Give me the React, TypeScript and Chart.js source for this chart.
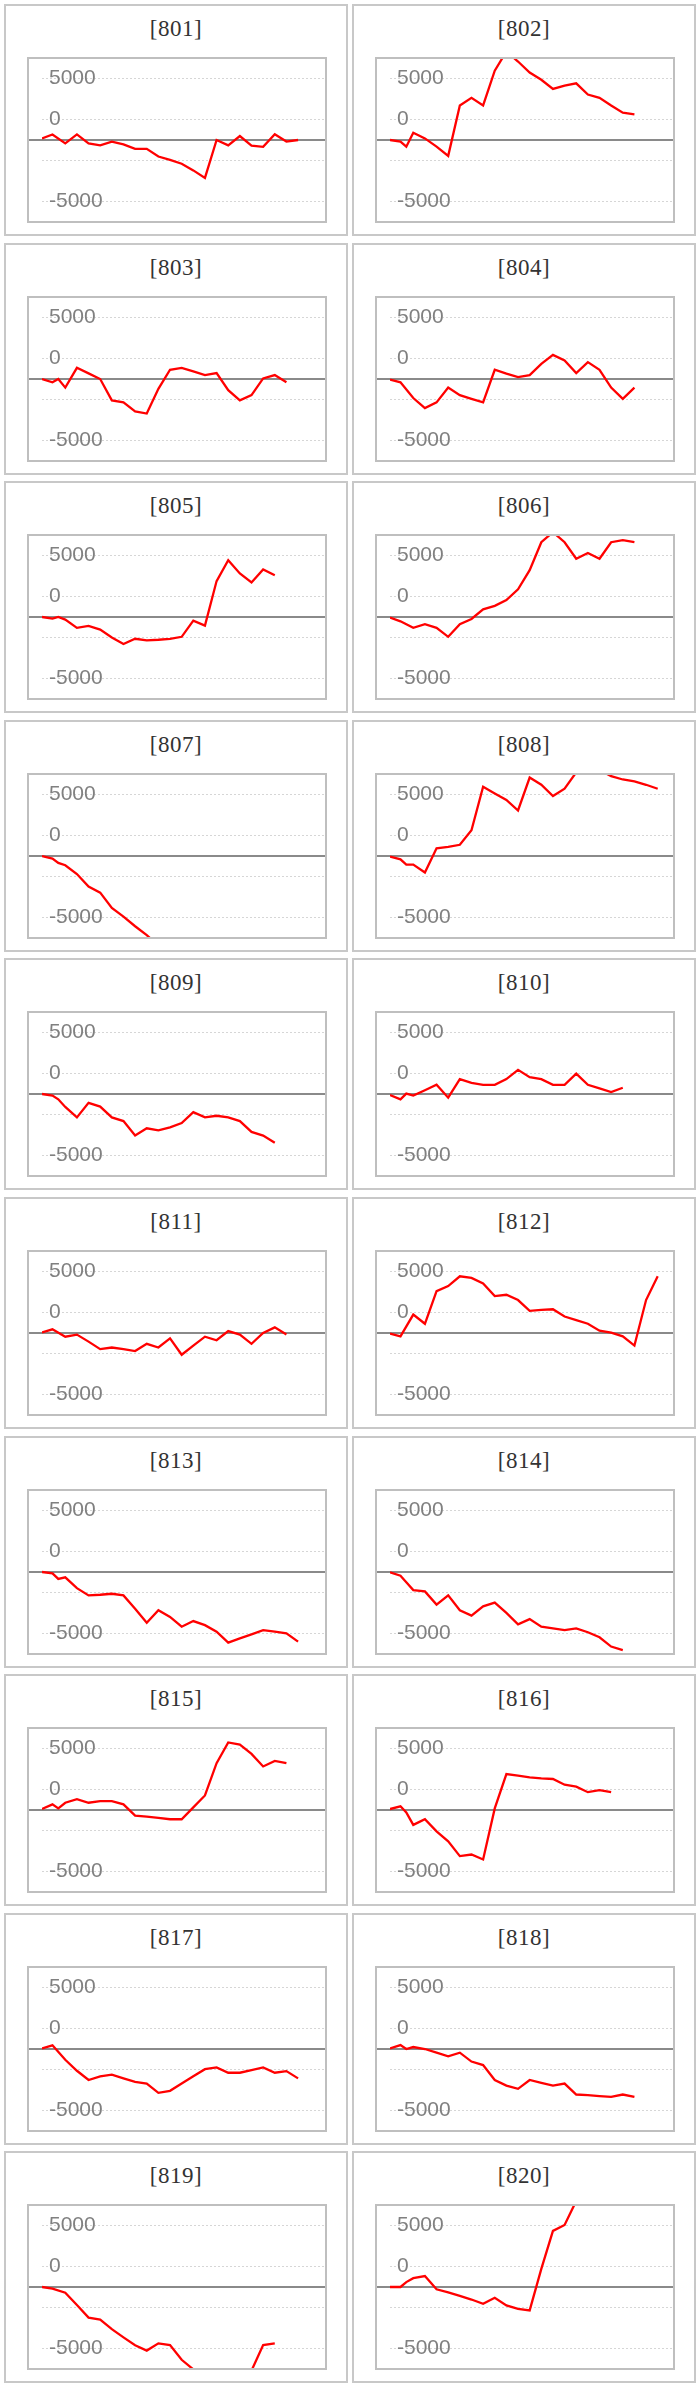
import { useEffect, useRef } from 'react';
import Chart from 'chart.js/auto';

// x position of every sample (weeks); the first few samples are irregular
const weeks = [0, 0.9, 1.4, 2, 3, 4, 5, 6, 7, 8, 9, 10, 11, 12, 13, 14, 15, 16, 17, 18, 19, 20, 21, 22, 23];

const yTicks = [-6666.67, -5000, -3333.33, -1666.67, 0, 1666.67, 3333.33, 5000, 6666.67];
const yTickLabels = [null, '-5000', ' ', ' ', ' ', '0', ' ', '5000', null];

const codes = ['801', '802', '803', '804', '805', '806', '807', '808', '809', '810',
    '811', '812', '813', '814', '815', '816', '817', '818', '819', '820'];

const s801 = [130, 450, null, -270, 460, -270, -430, -130, -350, -720, -720, -1340, -1610, -1930, -2470, -3080, 0, -430, 320, -460, -560, 460, -130, 0];
const s802 = [0, -130, -540, 590, 130, -540, -1290, 2810, 3430, 2810, 5630, 7200, 6380, 5490, 4900, 4150, 4420, 4610, 3700, 3430, 2810, 2220, 2090];
const s803 = [0, -270, 0, -700, 910, 460, 0, -1740, -1900, -2630, -2810, -800, 750, 910, 620, 320, 480, -910, -1740, -1310, 50, 320, -270];
const s804 = [-50, -270, null, -1550, -2360, -1900, -700, -1310, -1610, -1900, 750, 430, 160, 320, 1230, 1960, 1500, 480, 1370, 750, -700, -1610, -700];
const s805 = [0, -130, 0, -210, -880, -720, -1020, -1660, -2200, -1770, -1900, -1850, -1770, -1610, -300, -700, 2920, 4610, 3540, 2810, 3860, 3400];
const s806 = [-50, -350, null, -880, -590, -880, -1610, -590, -160, 620, 910, 1370, 2250, 3810, 6080, 6900, 6080, 4740, 5200, 4740, 6080, 6250, 6080];
const s807 = [0, -210, -560, -750, -1470, -2490, -2980, -4230, -4930, -5710, -6430, -7300];
const s808 = [-50, -270, -700, -700, -1340, 620, 750, 910, 2090, 5630, 5090, 4560, 3700, 6380, 5790, 4880, 5470, 6800, 7200, 7000, 6490, 6220, 6060, 5790, 5470];
const s809 = [0, -130, -430, -1050, -1900, -720, -1020, -1900, -2200, -3380, -2790, -2950, -2710, -2360, -1470, -1900, -1770, -1900, -2200, -3080, -3380, -3970];
const s810 = [-80, -430, 30, -130, 300, 750, -300, 1210, 910, 750, 750, 1210, 1960, 1370, 1210, 750, 750, 1660, 750, 460, 160, 510];
const s811 = [50, 300, null, -300, -130, -700, -1310, -1180, -1310, -1470, -880, -1180, -430, -1770, -1020, -300, -590, 160, -130, -880, 0, 460, -130];
const s812 = [-50, -270, null, 1500, 750, 3400, 3810, 4610, 4480, 4020, 3000, 3110, 2680, 1800, 1880, 1930, 1340, 1050, 750, 190, 30, -270, -1020, 2680, 4610];
const s813 = [0, -110, -560, -430, -1310, -1900, -1850, -1770, -1900, -2980, -4130, -3110, -3650, -4450, -3990, -4320, -4850, -5740, -5390, -5070, -4720, -4850, -4990, -5660];
const s814 = [-30, -300, -830, -1470, -1580, -2650, -1900, -3110, -3540, -2790, -2490, -3320, -4260, -3830, -4450, -4580, -4720, -4580, -4900, -5310, -6060, -6350];
const s815 = [80, 460, 130, 590, 880, 590, 720, 720, 460, -460, -540, -640, -750, -750, 210, 1180, 3810, 5490, 5310, 4560, 3540, 3990, 3810];
const s816 = [80, 300, -190, -1210, -750, -1740, -2550, -3750, -3620, -4020, 130, 2920, 2790, 2650, 2570, 2520, 2060, 1900, 1450, 1610, 1450];
const s817 = [50, 300, null, -880, -1770, -2520, -2220, -2090, -2390, -2680, -2810, -3560, -3400, -2810, -2220, -1640, -1500, -1930, -1930, -1720, -1500, -1930, -1800, -2390];
const s818 = [50, 320, 0, 160, 0, -300, -590, -300, -1020, -1310, -2520, -2980, -3240, -2520, -2760, -2980, -2810, -3700, -3750, -3830, -3890, -3700, -3890];
const s819 = [0, -130, null, -460, -1470, -2490, -2650, -3430, -4100, -4740, -5170, -4580, -4720, -5920, -6700, -7000, -7200, -7100, -7000, -6800, -4720, -4580];
const s820 = [0, 0, 400, 720, 890, -190, -430, -720, -1020, -1370, -880, -1500, -1770, -1900, 1470, 4560, 5040, 7000];

const series = [s801, s802, s803, s804, s805, s806, s807, s808, s809, s810,
    s811, s812, s813, s814, s815, s816, s817, s818, s819, s820];

// thick grey line at zero, under the red line
const zeroLine = {
    id: 'zeroLine',
    beforeDatasetsDraw(chart: any) {
        const { ctx, scales } = chart;
        const y = scales.y.getPixelForValue(0);
        ctx.save();
        ctx.strokeStyle = '#8a8a8a';
        ctx.lineWidth = 2;
        ctx.beginPath();
        ctx.moveTo(0, y);
        ctx.lineTo(chart.width, y);
        ctx.stroke();
        ctx.restore();
    }
};

interface PanelProps {
    values: (number | null)[];
}

function Panel({ values }: PanelProps) {
    const canvasRef = useRef<HTMLCanvasElement>(null);

    useEffect(() => {
        if (!canvasRef.current) return;
        const chart = new Chart(canvasRef.current, {
            type: 'line',
            data: {
                datasets: [
                    {
                        data: values.map((v, i) => ({ x: weeks[i], y: v })),
                        borderColor: '#ff0000',
                        borderWidth: 2.3,
                        pointRadius: 0,
                        tension: 0,
                        fill: false,
                        spanGaps: true
                    }
                ]
            },
            options: {
                animation: false,
                responsive: false,
                maintainAspectRatio: false,
                layout: { padding: 1 },
                plugins: {
                    legend: { display: false },
                    tooltip: { enabled: false }
                },
                scales: {
                    x: { type: 'linear', min: 0, max: 24.4, display: false },
                    y: {
                        min: yTicks[0],
                        max: yTicks[yTicks.length - 1],
                        afterBuildTicks: (scale: any) => {
                            scale.ticks = yTicks.map(v => ({ value: v }));
                        },
                        afterFit: (scale: any) => {
                            scale.paddingTop = 0;
                            scale.paddingBottom = 0;
                        },
                        grid: {
                            drawTicks: false,
                            color: (ctx: any) => (ctx.tick && ctx.tick.value === 0 ? 'rgba(0,0,0,0)' : '#d6d6d6'),
                            lineWidth: 1
                        },
                        border: { display: false, dash: [2, 2] },
                        ticks: {
                            mirror: true,
                            padding: 7,
                            color: '#808080',
                            font: { family: '"Liberation Sans"', size: 21 },
                            callback: (_v: any, i: number) => yTickLabels[i]
                        }
                    }
                }
            },
            plugins: [zeroLine]
        });
        return () => chart.destroy();
    }, [values]);

    return (
        <div style={{ position: 'absolute', left: 21, top: 51, width: 300, height: 166 }}>
            <canvas ref={canvasRef} width={300} height={166} style={{ width: '300px', height: '166px', display: 'block' }} />
            <div style={{
                position: 'absolute', left: 0, top: 0, width: 300, height: 166, boxSizing: 'border-box',
                border: '2px solid #bfbfbf', pointerEvents: 'none'
            }} />
        </div>
    );
}

export default function App() {
    return (
        <div style={{ position: 'absolute', left: 0, top: 0, width: 699, height: 2387, background: '#ffffff' }}>
            {codes.map((code, i) => {
                const row = Math.floor(i / 2);
                const col = i % 2;
                return (
                    <div
                        key={code}
                        style={{
                            position: 'absolute',
                            left: 4 + col * 348,
                            top: Math.round(4 + row * 238.6),
                            width: 344,
                            height: 232,
                            boxSizing: 'border-box',
                            border: '2px solid #c8c8c8',
                            background: '#ffffff'
                        }}
                    >
                        <div style={{
                            position: 'absolute', left: 0, top: 8, width: '100%', height: 30, lineHeight: '30px',
                            textAlign: 'center', fontFamily: '"Liberation Serif", serif', fontSize: 23,
                            letterSpacing: 0.5, color: '#333333'
                        }}>
                            [{code}]
                        </div>
                        <Panel values={series[i]} />
                    </div>
                );
            })}
        </div>
    );
}
